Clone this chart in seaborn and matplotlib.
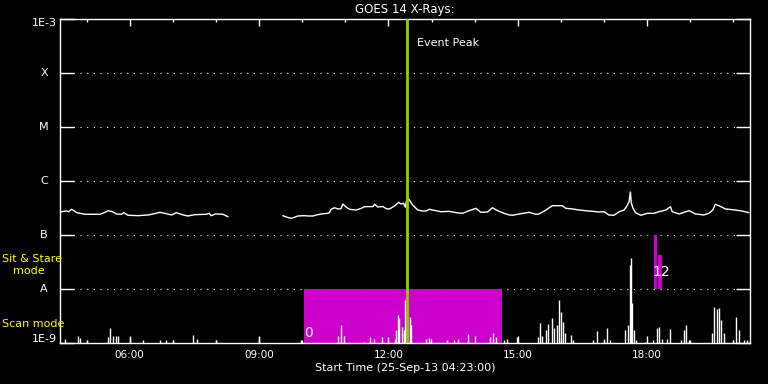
import numpy as np
import pandas as pd
import matplotlib
matplotlib.use("Agg")
import matplotlib.pyplot as plt
import matplotlib.transforms as mtransforms
from matplotlib.ticker import FixedLocator, NullLocator
import seaborn as sns

# long channel (1-8 A), time in decimal hours of 25-Sep-13, flux in W/m^2
long_t1 = [4.41, 4.54, 4.58, 4.65, 4.71, 4.77, 4.85, 4.96, 5.08, 5.31, 5.43, 5.50,
           5.60, 5.70, 5.81, 5.86, 5.96, 6.20, 6.31, 6.43, 6.54, 6.70, 6.81, 6.97,
           7.08, 7.24, 7.35, 7.51, 7.78, 7.84, 7.89, 7.99, 8.16, 8.28]
long_f1 = [2.70e-7, 2.78e-7, 2.70e-7, 2.99e-7, 2.82e-7, 2.59e-7, 2.52e-7, 2.42e-7,
           2.42e-7, 2.42e-7, 2.63e-7, 2.82e-7, 2.70e-7, 2.45e-7, 2.42e-7, 2.59e-7,
           2.32e-7, 2.28e-7, 2.32e-7, 2.35e-7, 2.45e-7, 2.63e-7, 2.52e-7, 2.35e-7,
           2.59e-7, 2.35e-7, 2.25e-7, 2.38e-7, 2.42e-7, 2.52e-7, 2.28e-7, 2.45e-7,
           2.42e-7, 2.18e-7]
long_t2 = [9.55, 9.65, 9.75, 9.82, 9.90, 10.05, 10.13, 10.25, 10.33, 10.44, 10.59,
           10.63, 10.67, 10.75, 10.83, 10.90, 10.94, 11.02, 11.10, 11.25, 11.37, 11.44,
           11.64, 11.68, 11.75, 11.87, 11.95, 12.02, 12.14, 12.24, 12.29, 12.35, 12.39,
           12.42, 12.47, 12.56, 12.68, 12.79, 12.87, 12.95, 13.06, 13.22, 13.41, 13.57,
           13.72, 13.87, 14.03, 14.14, 14.30, 14.41, 14.53, 14.68, 14.80, 14.88, 15.03,
           15.26, 15.42, 15.49, 15.65, 15.80, 16.03, 16.11, 16.27, 16.42, 16.65, 16.88,
           17.00, 17.11, 17.23, 17.35, 17.46, 17.52, 17.58, 17.61, 17.63, 17.67, 17.73,
           17.85, 18.00, 18.16, 18.27, 18.43, 18.54, 18.58, 18.74, 18.97, 19.12, 19.31,
           19.43, 19.52, 19.58, 19.66, 19.82, 20.05, 20.20, 20.36]
long_f2 = [2.28e-7, 2.13e-7, 2.04e-7, 2.13e-7, 2.25e-7, 2.28e-7, 2.25e-7, 2.25e-7,
           2.35e-7, 2.45e-7, 2.52e-7, 2.59e-7, 2.99e-7, 3.20e-7, 3.03e-7, 3.07e-7,
           3.75e-7, 3.28e-7, 2.99e-7, 2.90e-7, 3.12e-7, 3.34e-7, 3.37e-7, 3.70e-7,
           3.30e-7, 3.37e-7, 3.07e-7, 3.03e-7, 3.44e-7, 4.03e-7, 3.75e-7, 3.87e-7,
           3.28e-7, 4.32e-7, 4.64e-7, 3.59e-7, 2.90e-7, 2.78e-7, 2.78e-7, 2.99e-7,
           2.86e-7, 2.70e-7, 2.74e-7, 2.59e-7, 2.52e-7, 2.82e-7, 3.12e-7, 2.63e-7,
           2.67e-7, 3.20e-7, 2.82e-7, 2.52e-7, 2.35e-7, 2.32e-7, 2.45e-7, 2.63e-7,
           2.42e-7, 2.45e-7, 2.90e-7, 3.49e-7, 3.49e-7, 3.12e-7, 3.03e-7, 2.90e-7,
           2.78e-7, 2.67e-7, 2.70e-7, 2.35e-7, 2.32e-7, 2.70e-7, 2.90e-7, 3.34e-7,
           4.14e-7, 6.25e-7, 3.97e-7, 3.12e-7, 2.59e-7, 2.32e-7, 2.52e-7, 2.52e-7,
           2.70e-7, 2.90e-7, 3.34e-7, 2.70e-7, 2.45e-7, 2.82e-7, 2.45e-7, 2.35e-7,
           2.52e-7, 2.90e-7, 3.70e-7, 3.49e-7, 3.03e-7, 2.90e-7, 2.78e-7, 2.59e-7]

# short channel (0.5-4 A) spikes above the 1E-9 floor
short_t = [4.50, 4.80, 4.85, 5.01, 5.49, 5.54, 5.61, 5.68, 5.73, 6.00, 6.30, 6.70,
           6.84, 7.00, 7.46, 7.55, 7.99, 8.99, 9.98, 10.82, 10.91, 10.96, 11.44, 11.58,
           11.67, 11.86, 11.98, 12.14, 12.18, 12.21, 12.25, 12.32, 12.37, 12.39, 12.44,
           12.49, 12.53, 12.86, 12.95, 12.99, 13.36, 13.53, 13.62, 13.85, 14.01, 14.36,
           14.43, 14.50, 14.68, 14.75, 14.98, 15.47, 15.52, 15.56, 15.66, 15.70, 15.79,
           15.84, 15.91, 15.96, 16.00, 16.05, 16.10, 16.24, 16.28, 16.74, 16.84, 17.00,
           17.07, 17.14, 17.48, 17.55, 17.60, 17.62, 17.64, 17.69, 17.74, 17.95, 18.13,
           18.22, 18.27, 18.34, 18.46, 18.53, 18.78, 18.85, 18.90, 18.97, 19.50, 19.55,
           19.62, 19.66, 19.71, 19.78, 19.98, 20.05, 20.12, 20.24, 20.31]
short_f = [1.19e-9, 1.36e-9, 1.24e-9, 1.14e-9, 1.29e-9, 1.90e-9, 1.35e-9, 1.35e-9,
           1.35e-9, 1.29e-9, 1.14e-9, 1.14e-9, 1.14e-9, 1.14e-9, 1.41e-9, 1.19e-9,
           1.14e-9, 1.29e-9, 1.14e-9, 1.35e-9, 2.15e-9, 1.35e-9, 1.06e-9, 1.29e-9,
           1.19e-9, 1.29e-9, 1.29e-9, 1.19e-9, 1.74e-9, 3.30e-9, 2.90e-9, 2.00e-9,
           1.74e-9, 6.25e-9, 4.84e-9, 3.07e-9, 2.15e-9, 1.19e-9, 1.24e-9, 1.19e-9,
           1.14e-9, 1.14e-9, 1.19e-9, 1.47e-9, 1.36e-9, 1.29e-9, 1.53e-9, 1.29e-9,
           1.14e-9, 1.19e-9, 1.29e-9, 1.29e-9, 2.38e-9, 1.35e-9, 1.74e-9, 2.25e-9,
           2.94e-9, 1.90e-9, 2.15e-9, 6.25e-9, 3.80e-9, 2.48e-9, 1.53e-9, 1.41e-9,
           1.14e-9, 1.14e-9, 1.67e-9, 1.19e-9, 1.90e-9, 1.14e-9, 1.74e-9, 2.15e-9,
           2.78e-8, 3.75e-8, 5.50e-9, 1.74e-9, 1.14e-9, 1.06e-9, 1.14e-9, 1.90e-9,
           2.00e-9, 1.19e-9, 1.19e-9, 1.82e-9, 1.14e-9, 1.74e-9, 2.15e-9, 1.14e-9,
           1.53e-9, 4.64e-9, 4.26e-9, 4.39e-9, 2.67e-9, 1.53e-9, 1.14e-9, 3.03e-9,
           1.74e-9, 1.14e-9, 1.14e-9]

scan_start, scan_end = 10.03, 14.64
stare_t = [18.16, 18.25]
stare_w = [0.06, 0.09]
stare_top = [1.0e-7, 4.3e-8]
event_peak = 12.43

class_ticks = [1e-9, 1e-8, 1e-7, 1e-6, 1e-5, 1e-4, 1e-3]
class_labels = ["1E-9", "A", "B", "C", "M", "X", "1E-3"]
hour_ticks = [6, 9, 12, 15, 18]
hour_labels = ["06:00", "09:00", "12:00", "15:00", "18:00"]
minor_hours = list(range(5, 21))

MAGENTA = "#cc00cc"
GREEN = "#99cc00"
YELLOW = "#ffff00"

sns.set_theme(style="dark", rc={"axes.facecolor": "black", "figure.facecolor": "black",
                                "axes.edgecolor": "white", "text.color": "white",
                                "xtick.color": "white", "ytick.color": "white"})
plt.rcParams["font.family"] = ["DejaVu Sans"]

fig = plt.figure(figsize=(7.68, 3.84), dpi=100)
ax = fig.add_axes([60 / 768, 1 - 343 / 384, 690 / 768, 324 / 384])
ax.set_yscale("log")

df_long = pd.concat([
    pd.DataFrame({"t": long_t1, "flux": long_f1, "seg": 0}),
    pd.DataFrame({"t": long_t2, "flux": long_f2, "seg": 1}),
])
sns.lineplot(data=df_long, x="t", y="flux", units="seg", estimator=None,
             color="white", lw=1, ax=ax, zorder=3)

ax.vlines(short_t, 1e-9, short_f, color="white", lw=1, zorder=3)

ax.fill_between([scan_start, scan_end], 1e-9, 1e-8, color=MAGENTA, lw=0, zorder=1)
ax.bar(stare_t, [top - 1e-8 for top in stare_top], bottom=1e-8, width=stare_w,
       align="edge", color=MAGENTA, lw=0, zorder=1)

ax.axvline(event_peak, color=GREEN, lw=2, zorder=4)
ax.text(event_peak + 0.24, 10 ** -3.44, "Event Peak", color="white", fontsize=8,
        va="center", ha="left")
ax.text(10.15, 1.5e-9, "0", color="white", fontsize=10, ha="center", va="center", zorder=5)
ax.text(18.32, 2.1e-8, "12", color="white", fontsize=10, ha="center", va="center", zorder=5)

ax.set_xlim(4.3833, 20.3833)
ax.set_ylim(1e-9, 1e-3)

ax.yaxis.set_major_locator(FixedLocator(class_ticks))
ax.yaxis.set_minor_locator(NullLocator())
ax.set_yticklabels([])
ax.set_xticks(hour_ticks)
ax.set_xticklabels(hour_labels)
ax.xaxis.set_minor_locator(FixedLocator(minor_hours))
ax.set_xlabel("")
ax.set_ylabel("")

ax.tick_params(axis="x", which="major", direction="in", length=5, width=1,
               top=True, bottom=True, labelsize=7.5, pad=5)
ax.tick_params(axis="x", which="minor", direction="in", length=2.3, width=1,
               top=True, bottom=True)
ax.tick_params(axis="y", which="major", direction="in", length=10, width=1,
               left=True, right=True)

ax.grid(False)
ax.yaxis.grid(True, color="white", linestyle=(0, (1, 5)), lw=0.8)
ax.set_axisbelow(True)
for s in ax.spines.values():
    s.set_color("white")
    s.set_linewidth(1)

# class labels on the y axis
ytrans = ax.get_yaxis_transform()
for val, lab in zip(class_ticks, class_labels):
    if len(lab) == 1:
        ax.text(-16 / 690, val, lab, transform=ytrans, ha="center", va="center",
                fontsize=8, color="white")
    else:
        dy = 3 / 72 if val == 1e-9 else -3 / 72
        off = mtransforms.ScaledTranslation(0, dy, fig.dpi_scale_trans)
        ax.text(-3 / 690, val, lab, transform=ytrans + off, ha="right", va="center",
                fontsize=8, color="white")

fig.text(405 / 768, 1 - 9.5 / 384, "GOES 14 X-Rays:", ha="center", va="center",
         fontsize=8.5, color="white")
fig.text(405 / 768, 1 - 368 / 384, "Start Time (25-Sep-13 04:23:00)", ha="center",
         va="center", fontsize=8, color="white")
fig.text(2 / 768, 1 - 259 / 384, "Sit & Stare", ha="left", va="center",
         fontsize=8, color=YELLOW)
fig.text(13 / 768, 1 - 271.5 / 384, "mode", ha="left", va="center",
         fontsize=8, color=YELLOW)
fig.text(2 / 768, 1 - 324 / 384, "Scan mode", ha="left", va="center",
         fontsize=8, color=YELLOW)

fig.savefig("out.png", dpi=100, facecolor="black")
